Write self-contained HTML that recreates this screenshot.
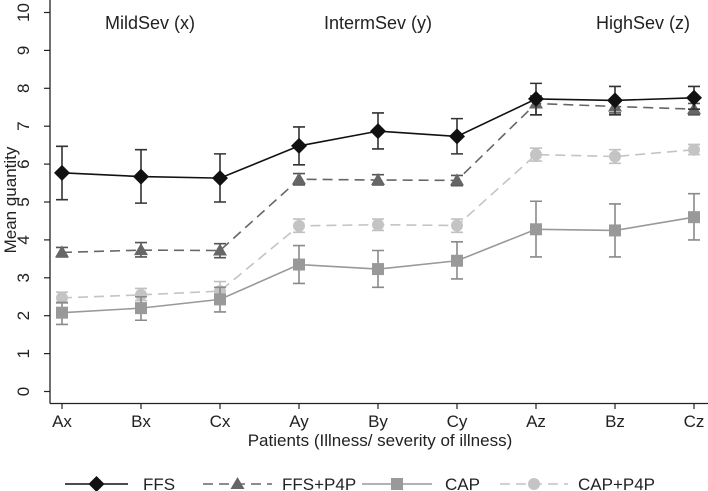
<!DOCTYPE html>
<html><head><meta charset="utf-8"><style>
body{margin:0;background:#fff}
svg{display:block;font-family:"Liberation Sans",Arial,sans-serif}
</style></head><body>
<svg id="chart" width="708" height="491"></svg>
<script>
const categories=["Ax","Bx","Cx","Ay","By","Cy","Az","Bz","Cz"];
const yTicks=[0,1,2,3,4,5,6,7,8,9,10];
const seriesNames=["FFS","FFS+P4P","CAP","CAP+P4P"];
const ffsMean=[5.77,5.67,5.63,6.48,6.87,6.73,7.72,7.68,7.75];
const ffsLo=[5.06,4.97,5.0,5.98,6.4,6.27,7.3,7.3,7.45];
const ffsHi=[6.47,6.38,6.27,6.98,7.35,7.2,8.13,8.05,8.05];
const ffspMean=[3.67,3.73,3.72,5.6,5.58,5.57,7.6,7.52,7.45];
const ffspLo=[3.55,3.55,3.53,5.45,5.45,5.43,7.3,7.35,7.3];
const ffspHi=[3.8,3.93,3.9,5.75,5.72,5.7,7.8,7.68,7.6];
const capMean=[2.08,2.2,2.43,3.35,3.23,3.45,4.28,4.25,4.6];
const capLo=[1.77,1.88,2.1,2.85,2.75,2.97,3.55,3.55,4.0];
const capHi=[2.35,2.5,2.75,3.85,3.72,3.95,5.02,4.95,5.22];
const cappMean=[2.47,2.55,2.65,4.37,4.4,4.38,6.25,6.2,6.38];
const cappLo=[2.33,2.4,2.45,4.2,4.25,4.2,6.08,6.02,6.25];
const cappHi=[2.62,2.72,2.9,4.55,4.55,4.55,6.42,6.38,6.52];
const groupLabels=["MildSev (x)","IntermSev (y)","HighSev (z)"];

const NS="http://www.w3.org/2000/svg";
const svg=document.getElementById('chart');
const X=i=>62+i*79;
const Y=v=>391.5-v*37.9;
function el(t,a,p){const e=document.createElementNS(NS,t);for(const k in a)e.setAttribute(k,a[k]);(p||svg).appendChild(e);return e;}

let ax=el('line',{x1:50,y1:0,x2:50,y2:403.5,stroke:'#222','stroke-width':1.3});


let bx=el('line',{x1:50,y1:403.5,x2:708,y2:403.5,stroke:'#222','stroke-width':1.3});



yTicks.forEach(v=>{
  el('line',{x1:44,x2:50,y1:Y(v),y2:Y(v),stroke:'#222','stroke-width':1.2});
  const t=el('text',{x:0,y:0,'font-size':17,'text-anchor':'middle',fill:'#222',transform:`translate(29,${Y(v)}) rotate(-90)`});
  t.textContent=v;
  
  
});
categories.forEach((c,i)=>{
  el('line',{x1:X(i),x2:X(i),y1:403.5,y2:409,stroke:'#222','stroke-width':1.2});
  const t=el('text',{x:X(i),y:427,'font-size':17,'text-anchor':'middle',fill:'#222'});
  t.textContent=c;
  
  
});
let yt=el('text',{x:0,y:0,'font-size':17,'text-anchor':'middle',fill:'#222',transform:'translate(16,200) rotate(-90)'});
yt.textContent='Mean quantity';


let xt=el('text',{x:380,y:446,'font-size':17,'text-anchor':'middle',fill:'#222'});
xt.textContent='Patients (Illness/ severity of illness)';


[150,378,643].forEach((x,i)=>{
  const t=el('text',{x:x,y:29,'font-size':18,'text-anchor':'middle',fill:'#222'});
  t.textContent=groupLabels[i];
  
  
});

function marker(shape,x,y,color,g){
  if(shape==='diamond')return el('polygon',{points:`${x},${y-8} ${x+8},${y} ${x},${y+8} ${x-8},${y}`,fill:color},g);
  if(shape==='triangle')return el('polygon',{points:`${x},${y-7} ${x+7},${y+5} ${x-7},${y+5}`,fill:color},g);
  if(shape==='square')return el('rect',{x:x-6,y:y-6,width:12,height:12,fill:color},g);
  return el('circle',{cx:x,cy:y,r:6,fill:color},g);
}
const series=[
 {m:ffsMean,lo:ffsLo,hi:ffsHi,c:'#111',ec:'#333',dash:'',shape:'diamond'},
 {m:ffspMean,lo:ffspLo,hi:ffspHi,c:'#666',ec:'#555',dash:'10,6',shape:'triangle'},
 {m:capMean,lo:capLo,hi:capHi,c:'#999',ec:'#8a8a8a',dash:'',shape:'square'},
 {m:cappMean,lo:cappLo,hi:cappHi,c:'#c4c4c4',ec:'#c0c0c0',dash:'10,6',shape:'circle'}
];
[3,2,1,0].forEach(si=>{
  const s=series[si];
  const g=el('g',{});
  
  
  el('polyline',{points:s.m.map((v,i)=>X(i)+','+Y(v)).join(' '),fill:'none',stroke:s.c,'stroke-width':1.6,'stroke-dasharray':s.dash},g);
  s.m.forEach((v,i)=>{
    el('path',{d:`M${X(i)},${Y(s.lo[i])}V${Y(s.hi[i])}M${X(i)-6},${Y(s.lo[i])}h12M${X(i)-6},${Y(s.hi[i])}h12`,stroke:s.ec,'stroke-width':1.6,fill:'none'},g);
    const mk=marker(s.shape,X(i),Y(v),s.c,g);
    
    
  });
});
const lx=[[65,128,143],[203,272,282],[362,432,445],[500,568,578]];
series.forEach((s,i)=>{
  const g=el('g',{});
  
  
  const y=484;
  el('line',{x1:lx[i][0],x2:lx[i][1],y1:y,y2:y,stroke:s.c,'stroke-width':1.6,'stroke-dasharray':s.dash},g);
  marker(s.shape,(lx[i][0]+lx[i][1])/2,y,s.c,g);
  const t=el('text',{x:lx[i][2],y:490,'font-size':17,fill:'#222'},g);
  t.textContent=seriesNames[i];
});
</script>
</body></html>
